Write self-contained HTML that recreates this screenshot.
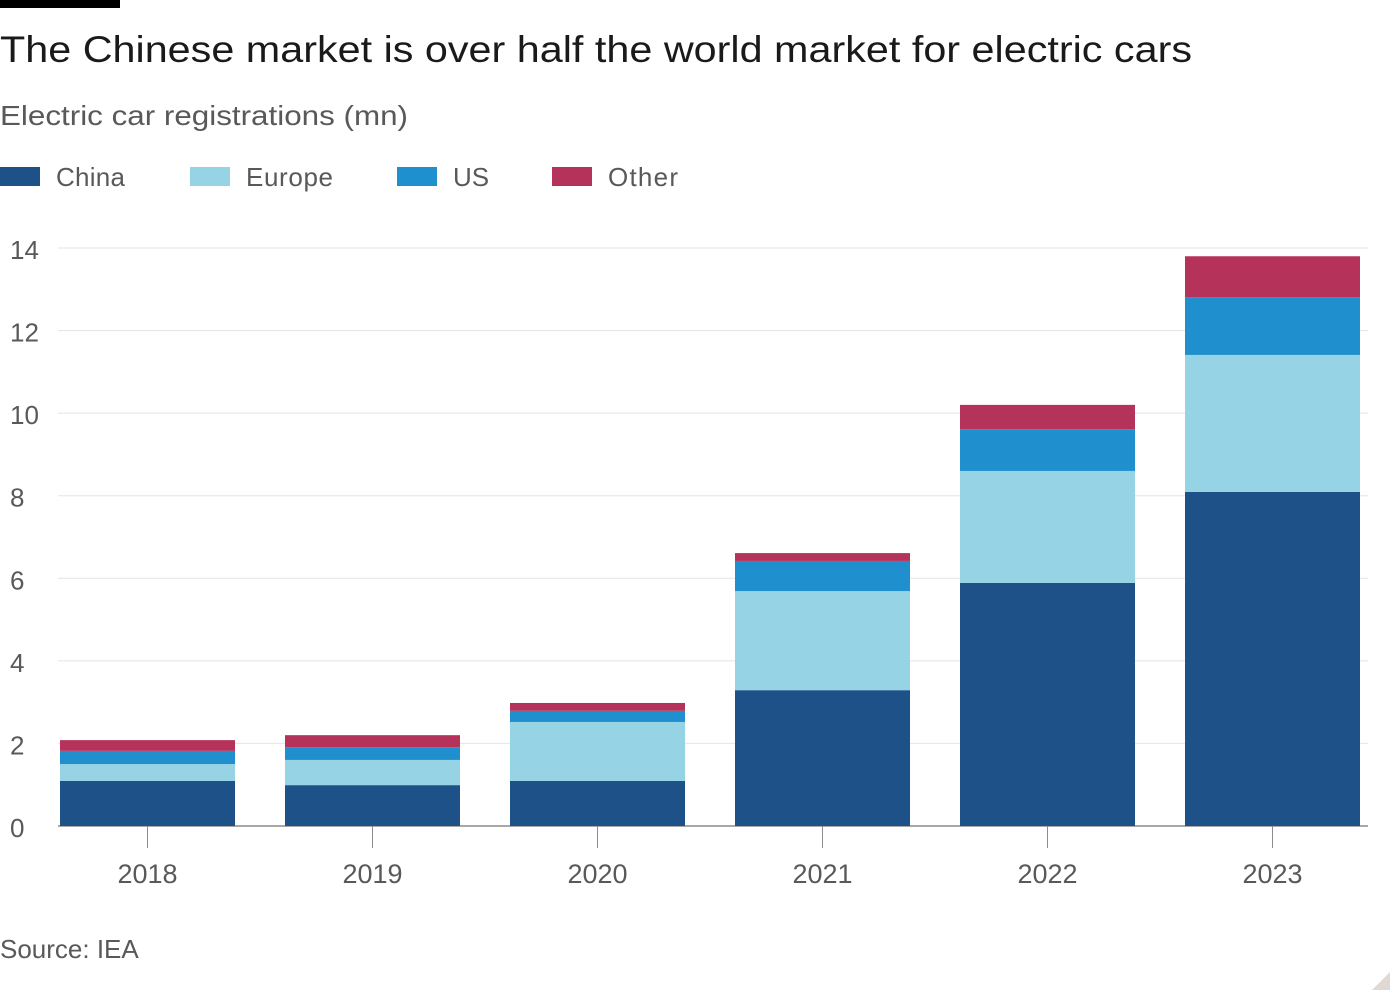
<!DOCTYPE html>
<html><head><meta charset="utf-8"><style>
html,body{margin:0;padding:0;background:#fff;width:1400px;height:1000px;overflow:hidden;font-family:"Liberation Sans",sans-serif;}
</style></head><body>
<svg width="1400" height="1000" xmlns="http://www.w3.org/2000/svg" id="svg">
<rect x="0" y="0" width="120" height="8" fill="#000"/>
<text x="0" y="62" font-size="37" fill="#1a1a1a" textLength="1192" lengthAdjust="spacingAndGlyphs">The Chinese market is over half the world market for electric cars</text>
<text x="0" y="125" font-size="28" fill="#595959" textLength="408" lengthAdjust="spacingAndGlyphs">Electric car registrations (mn)</text>
<g>
<rect x="0" y="167" width="40" height="19" fill="#1f5189"/>
<text x="56" y="186" font-size="26" fill="#595959" textLength="69">China</text>
<rect x="190" y="167" width="40" height="19" fill="#96d3e5"/>
<text x="246" y="186" font-size="26" fill="#595959" textLength="87">Europe</text>
<rect x="397" y="167" width="40" height="19" fill="#1f8fcd"/>
<text x="453" y="186" font-size="26" fill="#595959">US</text>
<rect x="552" y="167" width="40" height="19" fill="#b5325b"/>
<text x="608" y="186" font-size="26" fill="#595959" textLength="70">Other</text>
</g>
<g id="grid"></g><g id="bars"></g><g id="xaxis"></g>
<text x="0" y="958" font-size="26" fill="#595959">Source: IEA</text>
<polygon points="1390,972 1390,990 1372,990" fill="#e0d9d3"/>
</svg>
<script>
const categories=["2018","2019","2020","2021","2022","2023"];
const china=[1.09,0.99,1.09,3.29,5.89,8.09];
const europe=[0.41,0.61,1.43,2.40,2.71,3.32];
const us=[0.32,0.31,0.27,0.73,1.01,1.40];
const other=[0.26,0.29,0.19,0.19,0.59,0.99];
const yTicks=[0,2,4,6,8,10,12,14];
const NS="http://www.w3.org/2000/svg";
const y0=826,y1=248,yMax=14;
function y(v){return y0-(v/yMax)*(y0-y1);}
const bandStart=35,step=225,barW=175;
function xc(i){return bandStart+step*i+step/2;}
function mk(tag,attrs,parent){const e=document.createElementNS(NS,tag);for(const k in attrs)e.setAttribute(k,attrs[k]);parent.appendChild(e);return e;}
const grid=document.getElementById('grid'),bars=document.getElementById('bars'),xa=document.getElementById('xaxis');
yTicks.forEach(t=>{
 const l=mk('line',{x1:58,x2:1368,y1:y(t),y2:y(t),stroke:t===0?'#8c8c8c':'#e8e4df','stroke-width':t===0?1.5:1},grid);
 
 
 const tx=mk('text',{x:10,y:y(t)+11,'font-size':26,fill:'#595959'},grid);
 tx.textContent=t;
 
 
});
const series=[["china",china,"#1f5189"],["europe",europe,"#96d3e5"],["us",us,"#1f8fcd"],["other",other,"#b5325b"]];
categories.forEach((c,i)=>{
 let base=0;
 series.forEach(([n,arr,col])=>{
  const v=arr[i];
  const r=mk('rect',{x:xc(i)-barW/2,y:y(base+v),width:barW,height:y(base)-y(base+v),fill:col},bars);
  
  
  base+=v;
 });
 const tk=mk('line',{x1:xc(i),x2:xc(i),y1:y0,y2:y0+22,stroke:'#8c8c8c','stroke-width':1},xa);
 
 
 const t=mk('text',{x:xc(i),y:883,'font-size':27,fill:'#595959','text-anchor':'middle'},xa);
 t.textContent=c;
 
 
});
</script>
</body></html>
